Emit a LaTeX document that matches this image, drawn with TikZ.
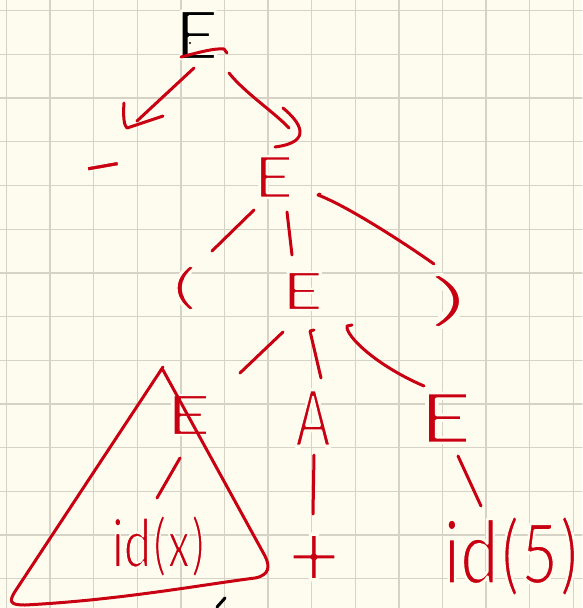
\documentclass[tikz,border=0pt]{standalone}
\usepackage{fontspec}
\usepackage{graphicx}
\newfontfamily\handfont{Carlito}
\usetikzlibrary{calc}
\definecolor{paper}{RGB}{254,252,239}
\definecolor{gridc}{RGB}{214,211,198}
\definecolor{ink}{RGB}{200,0,18}
\newcommand\fs[1]{\fontsize{#1}{#1}\selectfont}
% thin the glyph strokes: fill in ink, stroke the outline in paper colour
\newcommand\thinned[2]{\special{pdf:literal direct 2 Tr #1 w 0.996 0.988 0.937 RG}#2\special{pdf:literal direct 0 Tr}}
\begin{document}
\begin{tikzpicture}[x=1pt,y=-1pt,line cap=round,line join=round,
  hw/.style={inner sep=0pt,outer sep=0pt,text=ink,font=\handfont},
  edge/.style={draw=ink,line width=3pt},
  gridline/.style={draw=gridc,line width=1.3pt}]
\fill[paper] (0,0) rectangle (582,608);
\useasboundingbox (0,0) rectangle (582,608);
\foreach \k in {0,...,13} \draw[gridline] (6.5+43.6*\k,0) -- (6.5+43.6*\k,608);
\foreach \k in {0,...,13} \draw[gridline] (0,10.7+43.7*\k) -- (582,10.7+43.7*\k);
% nodes
\node[hw,text=black] (E0) at (197,35) {\fs{75}\thinned{2.6}{\scalebox{1.22}[1]{E}}};
\node[hw,anchor=base,rotate=10] (minus) at (106,184) {\fs{64}\thinned{1.2}{\scalebox{2.2}[1]{-}}};
\node[hw] (e1) at (274,177) {\fs{65}\thinned{2.3}{\scalebox{1.27}[1]{E}}};
\node[hw] (lp) at (184,288) {\fs{52}\thinned{1.8}{\scalebox{2}[1]{(}}};
\node[hw] (e2) at (303,291) {\fs{59}\thinned{2.1}{\scalebox{1.45}[1]{E}}};
\node[hw] (rp) at (449,301) {\fs{62}\thinned{2.6}{\scalebox{2.8}[1]{)}}};
\node[hw] (e3) at (189,415) {\fs{62}\thinned{2.2}{\scalebox{1.5}[1]{E}}};
\node[hw] (A) at (313,418) {\fs{88}\thinned{3.1}{\scalebox{0.7}[1]{A}}};
\node[hw] (e4) at (446,418) {\fs{78}\thinned{2.7}{\scalebox{1.4}[1]{E}}};
\node[hw] (idx) at (159,546) {\fs{72}\thinned{2.3}{\scalebox{0.73}[1]{id(x)}}};
\node[hw] (plus) at (314,561) {\fs{98}\thinned{3.4}{+}};
\node[hw] (id5) at (512,556) {\fs{94}\thinned{3}{\scalebox{0.78}[1]{id(5)}}};
% details on top E
\fill (190,43) circle (1.2);
\draw[edge] (181,57) .. controls (200,52) and (215,48) .. (224,49) -- (227,53);
% connectors
\draw[edge] ($(E0)+(-3,33)$) -- ($(minus.base)+(31,-63)$);
\draw[edge] ($(minus.base)+(18,-81)$) .. controls ($(minus.base)+(17,-68)$) and ($(minus.base)+(18,-58)$) .. ($(minus.base)+(21,-56)$) -- ($(minus.base)+(57,-68)$);
\draw[edge] ($(E0)+(32,38)$) .. controls ($(E0)+(48,58)$) and ($(e1)+(0,-65)$) .. ($(e1)+(15,-49)$);
\draw[edge] ($(e1)+(9,-69)$) .. controls ($(e1)+(26,-55)$) and ($(e1)+(40,-35)$) .. ($(e1)+(1,-30)$);
\draw[edge] ($(e1)+(-20,33)$) -- ($(lp)+(28,-37)$);
\draw[edge] ($(e1)+(13,35)$) -- ($(e2)+(-11,-36)$);
\draw[edge] ($(e1)+(46,17)$) -- ($(e1)+(44,18)$) .. controls ($(e1)+(71,28)$) and ($(rp)+(-49,-61)$) .. ($(rp)+(-15,-37)$);
\draw[edge] ($(e2)+(-20,41)$) -- ($(e3)+(51,-42)$);
\draw[edge] ($(e2)+(11,39)$) -- ($(e2)+(7,40)$) -- ($(A)+(8,-40)$);
\draw[edge] ($(e2)+(49,34)$) -- ($(e2)+(44,35)$) .. controls ($(e2)+(42,44)$) and ($(e4)+(-71,-53)$) .. ($(e4)+(-22,-32)$);
\draw[edge] ($(e3)+(-9,43)$) -- ($(idx)+(-2,-48)$);
\draw[edge] ($(A)+(1,37)$) -- ($(plus)+(-1,-47)$);
\draw[edge] ($(e4)+(12,38)$) -- ($(id5)+(-31,-50)$);
% triangle around the E -> id(x) subtree
\draw[edge] (163,367) -- (16,590) .. controls (8,602) and (10,605) .. (25,605)
  .. controls (120,600) and (200,585) .. (255,578) .. controls (270,575) and (270,566) .. (265,556) -- (163,370);
\draw[line width=3pt] (217,607) -- (225,598);
\end{tikzpicture}
\end{document}
